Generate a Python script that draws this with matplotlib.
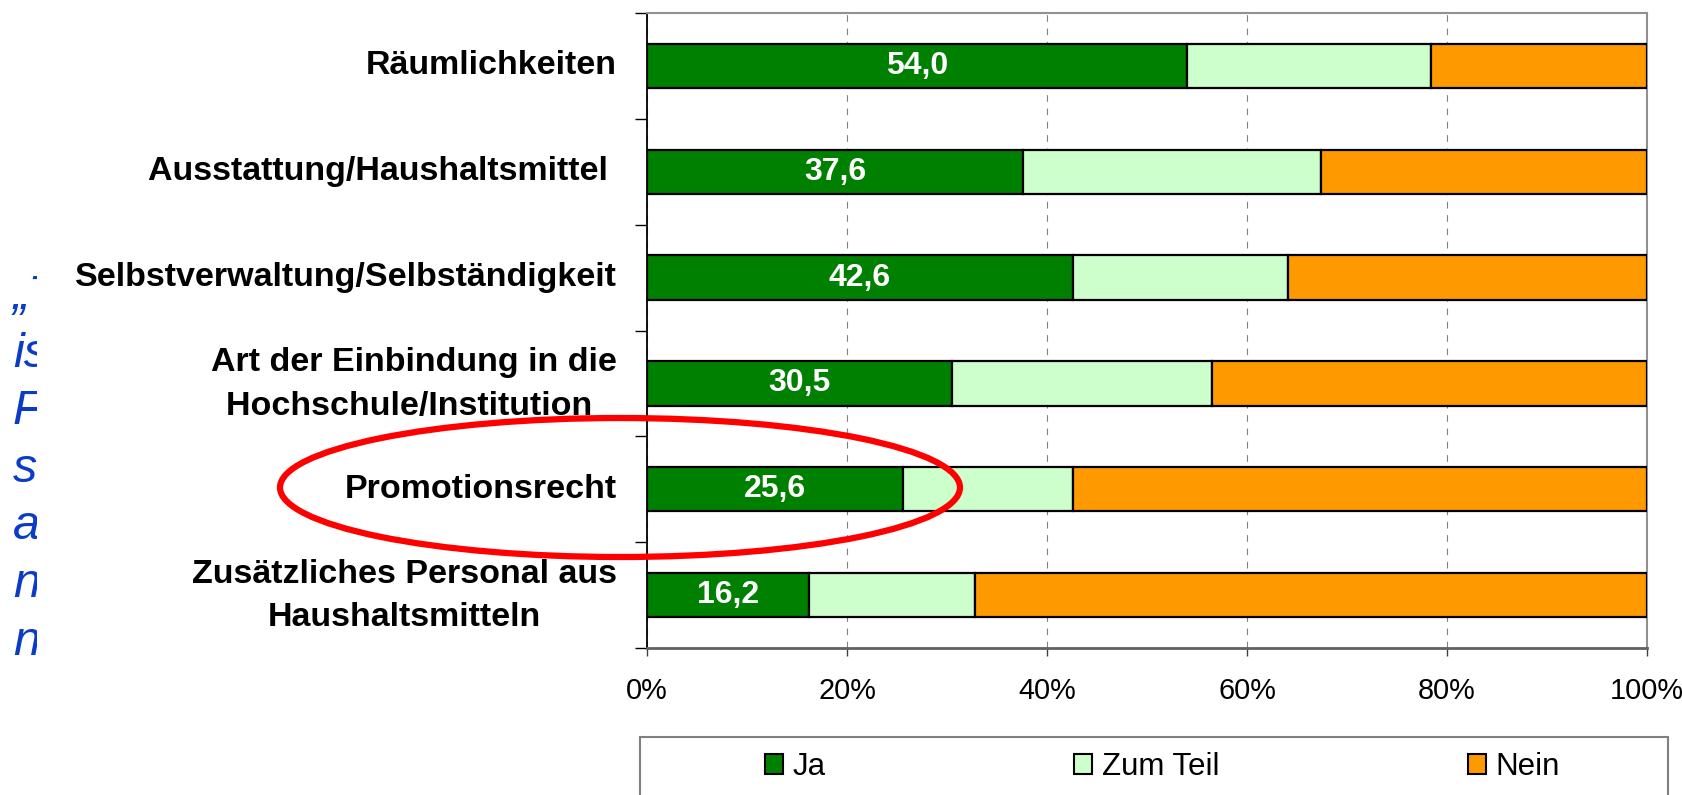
import matplotlib
matplotlib.use("Agg")
import matplotlib.pyplot as plt
from matplotlib.patches import Patch, Ellipse, Rectangle

plt.rcParams['font.family'] = ['Liberation Sans', 'DejaVu Sans']

# data (percent)
categories = ["Räumlichkeiten",
              "Ausstattung/Haushaltsmittel ",
              "Selbstverwaltung/Selbständigkeit",
              "Art der Einbindung in die\nHochschule/Institution ",
              "Promotionsrecht",
              "Zusätzliches Personal aus\nHaushaltsmitteln"]
ja = [54.0, 37.6, 42.6, 30.5, 25.6, 16.2]
zum_teil = [24.4, 29.8, 21.5, 26.0, 17.0, 16.6]
nein = [21.6, 32.6, 35.9, 43.5, 57.4, 67.2]
series_names = ["Ja", "Zum Teil", "Nein"]
colors = ["#008000", "#CCFFCC", "#FF9900"]
xticks = [0, 20, 40, 60, 80, 100]

# clipped text from the slide behind the chart
side_text = ["„Tr", "ist", "Fo", "so", "an", "ni", "nu"]

W, H = 1683, 795
fig = plt.figure(figsize=(W / 100, H / 100), dpi=100)
ax = fig.add_axes([647 / W, 147 / H, 1000 / W, 635 / H])

y = list(range(len(categories)))
left = [0] * len(categories)
for vals, name, col in zip([ja, zum_teil, nein], series_names, colors):
    ax.barh(y, vals, left=left, height=0.42, color=col, edgecolor="black",
            linewidth=1.6, label=name, zorder=3)
    left = [a + b for a, b in zip(left, vals)]

for i, v in enumerate(ja):
    ax.text(v / 2, i, f"{v:.1f}".replace(".", ","), ha="center", va="center",
            color="white", fontsize=23, fontweight="bold", zorder=4)

ax.set_xlim(0, 100)
ax.set_ylim(len(categories) - 0.5, -0.5)
ax.set_xticks(xticks)
ax.set_xticklabels([f"{t}%" for t in xticks], fontsize=20.8)
ax.set_yticks(y)
ax.set_yticklabels([])
ax.set_yticks([i - 0.5 for i in range(len(categories) + 1)], minor=True)
ax.tick_params(axis="y", which="major", length=0)
ax.tick_params(axis="y", which="minor", length=8.5, width=1, color="black")
ax.tick_params(axis="x", length=6, width=1, color="#404040", pad=15)

# category labels, right aligned left of the axis
for i, cat in enumerate(categories):
    shift = -0.01 if "\n" in cat else 0.0
    ax.text(-0.03, i - shift, cat, transform=ax.get_yaxis_transform(),
            ha="right", va="center", multialignment="center", linespacing=1.52,
            fontsize=24.5, fontweight="bold")

ax.xaxis.grid(True, color="#808080", linestyle=(0, (6, 6)), linewidth=0.8)
ax.set_axisbelow(True)
ax.spines["left"].set_color("black")
ax.spines["left"].set_linewidth(1.3)
ax.spines["bottom"].set_color("#606060")
ax.spines["bottom"].set_linewidth(2)
ax.spines["top"].set_color("#909090")
ax.spines["top"].set_linewidth(1.5)
ax.spines["right"].set_color("#909090")
ax.spines["right"].set_linewidth(1.5)

# legend box at the bottom
fig.add_artist(Rectangle((640 / W, -0.1), 1028 / W, (H - 737) / H + 0.1,
                         transform=fig.transFigure, facecolor="none",
                         edgecolor="#808080", linewidth=1.5))
handles = [Patch(facecolor=c, edgecolor="black", linewidth=1.5) for c in colors]
fig.legend(handles, series_names, loc="center left",
           bbox_to_anchor=(765 / W, 1 - 767 / H), ncol=3, frameon=False,
           fontsize=22.5, handlelength=0.58, handleheight=0.58,
           handletextpad=0.3, columnspacing=7.95, borderpad=0, borderaxespad=0)

# red ellipse around Promotionsrecht
fig.add_artist(Ellipse((620 / W, 1 - 487.5 / H), 680 / W, 139 / H,
                       transform=fig.transFigure, facecolor="none",
                       edgecolor="#FF0000", linewidth=4.5, zorder=10))

# cut-off blue italic text on the left
tax = fig.add_axes([0, 0, 37 / W, 1])
tax.set_xlim(0, 37)
tax.set_ylim(H, 0)
tax.axis("off")
for k, s in enumerate(side_text):
    tax.text(13, 309 + k * 57.6, s, fontsize=35, fontstyle="italic",
             color="#0A3CC8", va="baseline", ha="left", clip_on=True)

fig.savefig("out.png", dpi=100)
